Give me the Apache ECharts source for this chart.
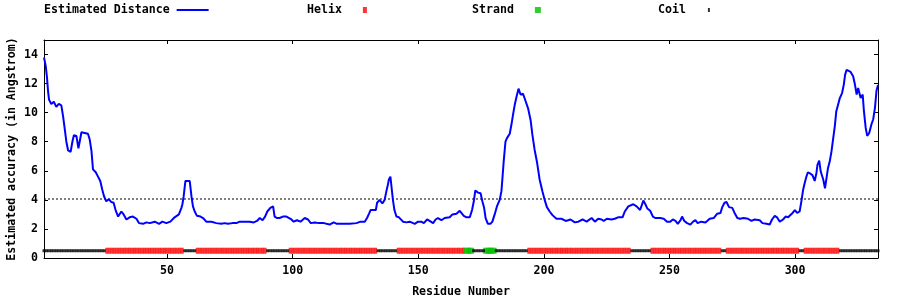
<!DOCTYPE html>
<html>
<head>
<meta charset="utf-8">
<script src="https://cdn.jsdelivr.net/npm/echarts@6/dist/echarts.min.js"></script>
<style>
html,body{margin:0;padding:0;background:#fff;}
#chart{width:900px;height:300px;}
</style>
</head>
<body>
<div id="chart"></div>
<script>
// ---- data ----
const residues = [1,1.7,2.2,2.6,3,3.9,4.9,5.9,6.9,7.9,8.6,9.2,9.9,10.6,11.6,12.3,12.9,13.9,14.7,15.2,15.9,17.2,18.5,19.2,19.9,20.5,21.6,22.5,23.4,24.2,24.9,25.8,26.8,27.8,28.7,29.5,30.5,31.8,32.7,33.8,35.1,36.4,37.8,38.8,40.4,41.8,43.1,45.1,46.8,48.1,49.7,51.3,53,54.7,55.7,56.1,56.6,57.3,57.9,59,59.7,60.3,61,61.9,63.3,64.3,65.6,67.6,69.6,71.6,72.9,74.2,76,77.6,78.9,80.9,82.9,84.5,85.8,86.9,88,89,89.9,91.1,92.2,92.8,93.8,94.8,96.1,97.5,98.1,99.5,100.4,101.7,103.1,104.8,106.1,107.2,108.8,110.5,112.4,114.7,116.3,117.6,120,122.7,125.4,127,128.7,129.6,130.4,131,132,133.1,133.6,134.6,135.7,136.6,137.3,137.9,138.3,138.9,139.4,139.9,140.5,141.3,142.3,142.9,143.9,145.3,146.6,148.6,149.9,151.2,152.2,153.5,154.5,155.9,156.9,157.8,159.2,160.5,162.5,163.6,165.2,166.5,167.2,168.1,169.2,170.5,171.4,172.1,172.7,173.8,174.8,175.5,176.2,176.8,177.7,178.7,179.5,180.4,181.3,182.4,183.1,183.5,184,184.7,185.3,186.4,187.1,187.7,188.4,189.1,189.9,190.7,191.7,192.7,193.7,194.7,195.4,196.3,197.3,198.3,199.4,200.3,201.2,202.3,203.4,205,207,208.7,210.6,212.3,213.7,215.4,217,219,220.3,221.6,223,223.8,225.1,226.9,228.2,229.5,231.3,232.2,233.6,235.6,236.9,238.3,239,239.6,240.4,241.2,242.3,243.4,244.3,246.3,247.7,249,250.3,251.3,252.4,253.3,254.4,255,255.9,257,258.3,259.4,260.3,261.2,262.6,264.3,266,267.6,269,270.3,271,271.9,272.7,273.7,275,275.9,277,278.1,279.5,281.2,282.6,283.9,285.9,287,288.6,289.9,290.8,291.9,292.8,293.9,295.2,296.2,297.2,297.9,299,299.9,300.8,301.8,302.5,303.2,303.8,304.5,305.1,306.1,306.9,307.8,308.5,308.9,309.6,310.2,311.2,311.9,312.5,313.1,313.8,314.5,315.1,315.8,316.4,317.1,317.8,318.7,319.4,319.9,320.5,321.1,322.1,323.1,323.8,324.5,325.1,325.5,326.1,326.9,327.4,328.1,328.7,329.5,330.4,331.1,331.8,332.4,333];
const distance = [13.8,13.2,12.4,11.5,10.9,10.6,10.75,10.4,10.6,10.5,9.75,8.95,8.0,7.4,7.3,8.0,8.45,8.4,7.55,8.0,8.65,8.6,8.55,8.15,7.35,6.1,5.9,5.6,5.3,4.7,4.25,3.9,4.05,3.85,3.8,3.3,2.85,3.2,3.0,2.65,2.8,2.85,2.7,2.4,2.35,2.45,2.4,2.5,2.35,2.5,2.4,2.5,2.8,3.0,3.45,3.7,4.25,5.3,5.4,5.3,4.25,3.55,3.2,2.9,2.85,2.75,2.5,2.5,2.4,2.35,2.4,2.35,2.4,2.4,2.5,2.5,2.5,2.45,2.55,2.75,2.6,2.85,3.2,3.45,3.55,2.85,2.75,2.75,2.85,2.85,2.9,2.65,2.5,2.6,2.5,2.75,2.65,2.4,2.45,2.4,2.4,2.3,2.45,2.35,2.35,2.35,2.4,2.5,2.5,2.75,3.05,3.3,3.3,3.3,3.8,4.0,3.75,4.0,4.6,5.05,5.4,5.6,4.8,4.0,3.3,2.85,2.8,2.85,2.5,2.45,2.5,2.35,2.5,2.5,2.4,2.65,2.55,2.4,2.65,2.75,2.6,2.75,2.8,3.0,3.05,3.25,3.3,2.9,2.8,2.8,3.3,3.9,4.65,4.5,4.45,3.9,3.45,2.75,2.35,2.35,2.5,3.0,3.55,4.0,4.6,5.5,6.65,8.0,8.25,8.55,9.2,9.85,10.55,11.1,11.65,11.25,11.3,10.8,10.3,9.5,8.5,7.45,6.55,5.4,4.6,4.0,3.5,3.2,2.95,2.7,2.7,2.55,2.65,2.45,2.5,2.65,2.5,2.75,2.5,2.7,2.65,2.55,2.7,2.65,2.7,2.8,2.8,3.2,3.55,3.7,3.55,3.3,3.2,3.95,3.7,3.4,3.25,2.85,2.75,2.75,2.7,2.5,2.5,2.65,2.55,2.35,2.6,2.85,2.55,2.4,2.3,2.5,2.6,2.4,2.5,2.45,2.7,2.75,3.05,3.1,3.5,3.8,3.85,3.5,3.45,3.1,2.75,2.7,2.75,2.7,2.55,2.65,2.6,2.4,2.35,2.3,2.65,2.9,2.8,2.5,2.65,2.85,2.8,2.7,3.1,3.3,3.1,3.2,3.9,4.7,5.15,5.6,5.9,5.8,5.7,5.3,5.85,6.4,6.7,5.95,5.4,4.8,5.5,6.2,6.65,7.35,8.15,9.05,10.1,10.55,11.0,11.35,11.95,12.6,12.95,13.0,12.8,12.5,11.95,11.25,11.7,11.75,11.0,11.25,10.1,8.95,8.4,8.6,9.2,9.55,10.35,11.5,11.9];
const helixRanges = [[26,56],[62,89],[99,133],[142,168],[194,234],[243,270],[273,301],[304,317]];
const strandRanges = [[169,171],[177,180]];
const coilRanges = [[1,25],[57,61],[90,98],[134,141],[172,176],[181,193],[235,242],[271,272],[302,303],[318,333]];
const stripLevel = 0.5;
const threshold = 4.06;
const residueMin = 1, residueMax = 333;
const xTicks = [50,100,150,200,250,300];
const yTicks = [0,2,4,6,8,10,12,14];
const legendNames = ['Estimated Distance','Helix','Strand','Coil'];

// ---- build ----
const FONT = 'DejaVu Sans Mono';
const txt = {color:'#000', fontFamily:FONT, fontWeight:'bold', fontSize:11.6};
function expand(ranges){
  const out=[];
  ranges.forEach(([a,b])=>{for(let r=a;r<=b;r++) out.push([r, stripLevel]);});
  return out;
}
const lineData = residues.map((r,i)=>[r, distance[i]]);

const chart = echarts.init(document.getElementById('chart'), null, {renderer:'canvas'});
const axisLineStyle = {color:'#000', width:1};
function leg(name, left, w, h, pad){
  return {data:[name], left:left, top:4, padding:0, align:'right', icon:'rect', itemWidth:w, itemHeight:h,
          textStyle:Object.assign({padding:[0,pad,0,0]},txt), selectedMode:false};
}
const option = {
  animation:false,
  backgroundColor:'#fff',
  grid:{left:44, right:22, top:40, bottom:42, containLabel:false, outerBoundsMode:'none'},
  legend:[
    leg(legendNames[0], 44, 32, 2, 2),
    leg(legendNames[1], 307, 4, 6, 16),
    leg(legendNames[2], 472, 6, 6, 16),
    leg(legendNames[3], 658, 2, 4, 17)
  ],
  xAxis:[
    {type:'value', min:residueMin, max:residueMax, position:'bottom',
     axisLine:{show:true, onZero:false, lineStyle:axisLineStyle},
     axisTick:{show:true, inside:true, length:4, customValues:xTicks, lineStyle:axisLineStyle},
     axisLabel:Object.assign({customValues:xTicks, margin:7}, txt),
     splitLine:{show:false},
     name:'Residue Number', nameLocation:'middle', nameGap:28, nameMoveOverlap:false, nameTextStyle:txt},
    {type:'value', min:residueMin, max:residueMax, position:'top',
     axisLine:{show:true, onZero:false, lineStyle:axisLineStyle},
     axisTick:{show:true, inside:true, length:4, customValues:xTicks, lineStyle:axisLineStyle},
     axisLabel:{show:false}, splitLine:{show:false}}
  ],
  yAxis:[
    {type:'value', min:0, max:15, position:'left',
     axisLine:{show:true, onZero:false, lineStyle:axisLineStyle},
     axisTick:{show:true, inside:true, length:4, customValues:yTicks, lineStyle:axisLineStyle},
     axisLabel:Object.assign({customValues:yTicks, margin:6}, txt),
     splitLine:{show:false},
     name:'Estimated accuracy (in Angstrom)', nameLocation:'middle', nameGap:26, nameMoveOverlap:false, nameTextStyle:txt},
    {type:'value', min:0, max:15, position:'right',
     axisLine:{show:true, onZero:false, lineStyle:axisLineStyle},
     axisTick:{show:true, inside:true, length:4, customValues:yTicks, lineStyle:axisLineStyle},
     axisLabel:{show:false}, splitLine:{show:false}}
  ],
  series:[
    {name:'threshold', type:'line', silent:true, symbol:'none', data:[[residueMin,threshold],[residueMax,threshold]],
     lineStyle:{color:'#000', width:1, type:[2,2]}, z:1},
    {name:legendNames[1], type:'scatter', symbol:'rect', symbolSize:[3,6], data:expand(helixRanges),
     itemStyle:{color:'#ff0000'}, silent:true, z:2},
    {name:legendNames[2], type:'scatter', symbol:'rect', symbolSize:[6,6], data:expand(strandRanges),
     itemStyle:{color:'#00c000'}, silent:true, z:2},
    {name:legendNames[3], type:'scatter', symbol:'rect', symbolSize:[3,3], data:expand(coilRanges),
     itemStyle:{color:'#000000'}, silent:true, z:3},
    {name:legendNames[0], type:'line', symbol:'none', data:lineData,
     lineStyle:{color:'#0000ff', width:2}, itemStyle:{color:'#0000ff'}, z:4}
  ]
};
chart.setOption(option);
</script>
</body>
</html>
